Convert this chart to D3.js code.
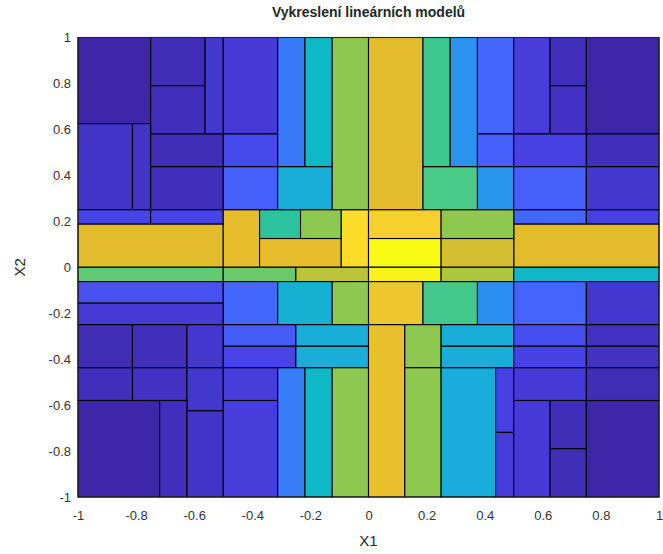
<!DOCTYPE html>
<html>
<head>
<meta charset="utf-8">
<script src="https://cdn.jsdelivr.net/npm/d3@7"></script>
<style>
  body { margin: 0; background: #fff; }
  svg text { font-family: "Liberation Sans", Arial, sans-serif; fill: #262626; }
</style>
</head>
<body>
<svg id="chart" width="663" height="554"></svg>
<script>
// local linear models: [x1 from, x1 to, x2 from, x2 to, model value 0..1]
var upperLeft = [
    [-1, -0.75, 0.625, 1, 0.0],
    [-0.75, -0.5625, 0.79, 1, 0.02],
    [-0.75, -0.5625, 0.58, 0.79, 0.03],
    [-0.5625, -0.5, 0.58, 1, 0.06],
    [-1, -0.8125, 0.25, 0.625, 0.05],
    [-0.8125, -0.75, 0.25, 0.625, 0.05],
    [-0.75, -0.5, 0.4375, 0.58, 0.02],
    [-0.75, -0.5, 0.25, 0.4375, 0.03],
    [-0.5, -0.3125, 0.58, 1, 0.07],
    [-0.5, -0.3125, 0.4375, 0.58, 0.12],
    [-0.5, -0.3125, 0.25, 0.4375, 0.18],
    [-0.3125, -0.21875, 0.4375, 1, 0.25],
    [-0.21875, -0.125, 0.4375, 1, 0.47],
    [-0.3125, -0.125, 0.25, 0.4375, 0.42],
    [-0.125, 0, 0.25, 1, 0.68],
    [-1, -0.75, 0.1875, 0.25, 0.1],
    [-0.75, -0.5, 0.1875, 0.25, 0.1],
    [-1, -0.5, 0, 0.1875, 0.79],
    [-0.5, -0.375, 0, 0.25, 0.8],
    [-0.375, -0.234, 0.125, 0.25, 0.55],
    [-0.234, -0.09375, 0.125, 0.25, 0.68],
    [-0.375, -0.09375, 0, 0.125, 0.8],
    [-0.09375, 0, 0, 0.25, 0.92]
];
var upperRight = [
    [0, 0.1875, 0.25, 1, 0.79],
    [0.1875, 0.28125, 0.4375, 1, 0.58],
    [0.28125, 0.375, 0.4375, 1, 0.32],
    [0.1875, 0.375, 0.25, 0.4375, 0.6],
    [0.375, 0.5, 0.58, 1, 0.2],
    [0.375, 0.5, 0.4375, 0.58, 0.18],
    [0.375, 0.5, 0.25, 0.4375, 0.33],
    [0.5, 0.625, 0.58, 1, 0.08],
    [0.625, 0.75, 0.79, 1, 0.03],
    [0.625, 0.75, 0.58, 0.79, 0.04],
    [0.75, 1, 0.58, 1, 0.0],
    [0.5, 0.75, 0.4375, 0.58, 0.09],
    [0.75, 1, 0.4375, 0.58, 0.03],
    [0.5, 0.75, 0.25, 0.4375, 0.18],
    [0.75, 1, 0.25, 0.4375, 0.06],
    [0.5, 0.75, 0.1875, 0.25, 0.2],
    [0.75, 1, 0.1875, 0.25, 0.09],
    [0.5, 1, 0, 0.1875, 0.79],
    [0, 0.25, 0.125, 0.25, 0.88],
    [0.25, 0.5, 0.125, 0.25, 0.68],
    [0, 0.25, 0, 0.125, 1.0],
    [0.25, 0.5, 0, 0.125, 0.77]
];
var centerBand = [
    [-1, -0.5, -0.0625, 0, 0.63],
    [-0.5, -0.25, -0.0625, 0, 0.64],
    [-0.25, 0, -0.0625, 0, 0.74],
    [0, 0.25, -0.0625, 0, 0.98],
    [0.25, 0.5, -0.0625, 0, 0.72],
    [0.5, 1, -0.0625, 0, 0.46]
];
var lowerLeft = [
    [-1, -0.5, -0.15625, -0.0625, 0.14],
    [-1, -0.5, -0.25, -0.15625, 0.07],
    [-0.5, -0.3125, -0.25, -0.0625, 0.2],
    [-0.3125, -0.125, -0.25, -0.0625, 0.43],
    [-0.125, 0, -0.25, -0.0625, 0.68],
    [-1, -0.8125, -0.4375, -0.25, 0.02],
    [-0.8125, -0.625, -0.4375, -0.25, 0.03],
    [-0.625, -0.5, -0.4375, -0.25, 0.06],
    [-1, -0.8125, -0.58, -0.4375, 0.03],
    [-0.8125, -0.625, -0.58, -0.4375, 0.04],
    [-0.625, -0.5, -0.625, -0.4375, 0.06],
    [-1, -0.71875, -1, -0.58, 0.0],
    [-0.71875, -0.625, -1, -0.58, 0.03],
    [-0.625, -0.5, -1, -0.625, 0.05],
    [-0.5, -0.25, -0.34375, -0.25, 0.17],
    [-0.25, 0, -0.34375, -0.25, 0.42],
    [-0.5, -0.25, -0.4375, -0.34375, 0.1],
    [-0.25, 0, -0.4375, -0.34375, 0.41],
    [-0.5, -0.3125, -0.58, -0.4375, 0.08],
    [-0.5, -0.3125, -1, -0.58, 0.08],
    [-0.3125, -0.21875, -1, -0.4375, 0.26],
    [-0.21875, -0.125, -1, -0.4375, 0.47],
    [-0.125, 0, -1, -0.4375, 0.68]
];
var lowerRight = [
    [0, 0.1875, -0.25, -0.0625, 0.84],
    [0.1875, 0.375, -0.25, -0.0625, 0.59],
    [0.375, 0.5, -0.25, -0.0625, 0.31],
    [0.5, 0.75, -0.25, -0.0625, 0.19],
    [0.75, 1, -0.25, -0.0625, 0.06],
    [0, 0.125, -1, -0.25, 0.81],
    [0.125, 0.25, -0.4375, -0.25, 0.68],
    [0.125, 0.25, -1, -0.4375, 0.68],
    [0.25, 0.5, -0.34375, -0.25, 0.42],
    [0.25, 0.5, -0.4375, -0.34375, 0.41],
    [0.25, 0.4375, -1, -0.4375, 0.41],
    [0.4375, 0.5, -0.71875, -0.4375, 0.09],
    [0.4375, 0.5, -1, -0.71875, 0.08],
    [0.5, 0.75, -0.34375, -0.25, 0.13],
    [0.75, 1, -0.34375, -0.25, 0.04],
    [0.5, 0.75, -0.4375, -0.34375, 0.09],
    [0.75, 1, -0.4375, -0.34375, 0.04],
    [0.5, 0.75, -0.58, -0.4375, 0.07],
    [0.75, 1, -0.58, -0.4375, 0.02],
    [0.5, 0.625, -1, -0.58, 0.07],
    [0.625, 0.75, -0.79, -0.58, 0.02],
    [0.625, 0.75, -1, -0.79, 0.02],
    [0.75, 1, -1, -0.58, 0.0]
];
var xTicks = [-1, -0.8, -0.6, -0.4, -0.2, 0, 0.2, 0.4, 0.6, 0.8, 1];
var yTicks = [-1, -0.8, -0.6, -0.4, -0.2, 0, 0.2, 0.4, 0.6, 0.8, 1];
// parula colormap key colours
var parulaColors = ["#3e26a8", "#4741e5", "#4563fd", "#2d8cf3", "#1ca9df", "#0bbdbd",
                    "#4acb84", "#9dc943", "#e6bb2d", "#fad62d", "#f9fb15"];
var parulaStops = [0, 6, 12, 19, 25, 31, 38, 44, 50, 57, 63].map(function (i) { return i / 63; });

var margin = {top: 37.5, right: 4, bottom: 57, left: 78};
var width = 663 - margin.left - margin.right;
var height = 554 - margin.top - margin.bottom;

var svg = d3.select("#chart");
var g = svg.append("g").attr("transform", "translate(" + margin.left + "," + margin.top + ")");

var x = d3.scaleLinear().domain([-1, 1]).range([0, width]);
var y = d3.scaleLinear().domain([-1, 1]).range([height, 0]);
var color = d3.scaleLinear().domain(parulaStops).range(parulaColors).clamp(true);

var models = upperLeft.concat(upperRight, centerBand, lowerLeft, lowerRight);

g.selectAll("rect.model")
    .data(models)
    .enter().append("rect")
    .attr("class", "model")
    .attr("x", function (d) { return x(d[0]); })
    .attr("width", function (d) { return x(d[1]) - x(d[0]); })
    .attr("y", function (d) { return y(d[3]); })
    .attr("height", function (d) { return y(d[2]) - y(d[3]); })
    .style("fill", function (d) { return color(d[4]); })
    .style("stroke", "#000")
    .style("stroke-width", 1.1);

// axes (MATLAB look: box, no visible ticks over patches)
var xAxis = g.append("g")
    .attr("transform", "translate(0," + height + ")")
    .call(d3.axisBottom(x).tickValues(xTicks).tickSize(0).tickPadding(14)
        .tickFormat(function (d) { return String(+d.toFixed(1)); }));
var yAxis = g.append("g")
    .call(d3.axisLeft(y).tickValues(yTicks).tickSize(0).tickPadding(7)
        .tickFormat(function (d) { return String(+d.toFixed(1)); }));
[xAxis, yAxis].forEach(function (a) {
    a.select(".domain").remove();
    a.selectAll("text").style("font-size", "13px").style("fill", "#333");
});

g.append("rect")
    .attr("x", 0).attr("y", 0)
    .attr("width", width).attr("height", height)
    .style("fill", "none")
    .style("stroke", "#262626")
    .style("stroke-width", 1);

svg.append("text")
    .attr("x", margin.left + width / 2)
    .attr("y", 17)
    .attr("text-anchor", "middle")
    .style("font-size", "14px")
    .style("font-weight", "bold")
    .text("Vykreslení lineárních modelů");

svg.append("text")
    .attr("x", margin.left + width / 2)
    .attr("y", 546)
    .attr("text-anchor", "middle")
    .style("font-size", "15px")
    .text("X1");

svg.append("text")
    .attr("transform", "translate(25," + (margin.top + height / 2) + ") rotate(-90)")
    .attr("text-anchor", "middle")
    .style("font-size", "15px")
    .text("X2");
</script>
</body>
</html>
